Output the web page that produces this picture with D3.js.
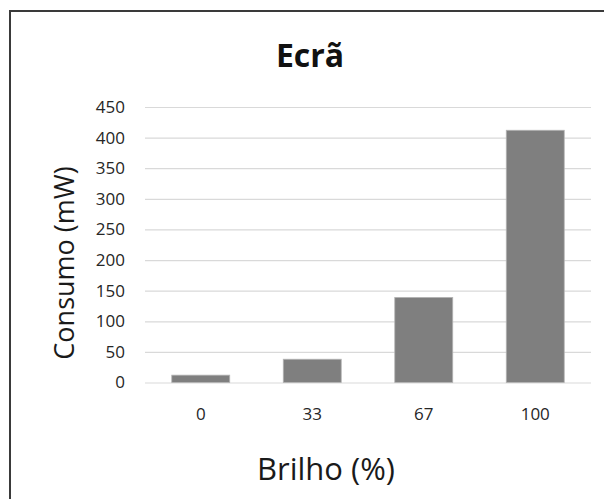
<!DOCTYPE html>
<html lang="pt">
<head>
    <meta charset="UTF-8">
    <title>Ecrã</title>
    <script src="https://d3js.org/d3.v7.min.js"></script>
    <style>
        body { margin: 0; background: white; font-family: "Open Sans", sans-serif; }
        svg { display: block; }
    </style>
</head>
<body>
<script>
    // Chart data
    const brilho = ["0", "33", "67", "100"];
    const consumo = [12, 38, 139, 412];
    const yTicks = [0, 50, 100, 150, 200, 250, 300, 350, 400, 450];

    const W = 604, H = 499;
    const plot = {left: 145, right: 591, top: 107, bottom: 382.5};

    const svg = d3.select("body").append("svg")
        .attr("width", W)
        .attr("height", H);

    // chart frame (runs off the right/bottom of the picture)
    svg.append("rect")
        .attr("x", 10).attr("y", 11)
        .attr("width", 700).attr("height", 600)
        .attr("fill", "white")
        .attr("stroke", "#3a3a3a")
        .attr("stroke-width", 2);

    const x = d3.scaleBand()
        .domain(brilho)
        .range([plot.left, plot.right])
        .paddingInner(0.48)
        .paddingOuter(0.24);

    const y = d3.scaleLinear()
        .domain([0, 450])
        .range([plot.bottom, plot.top]);

    // y axis + gridlines
    const yAxis = svg.append("g")
        .attr("transform", `translate(${plot.left},0)`)
        .call(d3.axisLeft(y)
            .tickValues(yTicks)
            .tickSize(-(plot.right - plot.left))
            .tickPadding(20));
    yAxis.select(".domain").remove();
    yAxis.selectAll("line").attr("stroke", "#d9d9d9").attr("stroke-width", 1.2);
    yAxis.selectAll("text")
        .attr("fill", "#262626")
        .style("font-family", "Open Sans, sans-serif")
        .style("font-size", "17px");

    // bars
    svg.selectAll(".bar")
        .data(brilho.map((b, i) => ({b, v: consumo[i]})))
        .enter().append("rect")
        .attr("class", "bar")
        .attr("x", d => x(d.b))
        .attr("y", d => y(d.v))
        .attr("width", x.bandwidth())
        .attr("height", d => y(0) - y(d.v))
        .attr("fill", "#7f7f7f")
        .attr("stroke", "#b4b4b4")
        .attr("stroke-width", 0.8);

    // x axis labels
    const xAxis = svg.append("g")
        .attr("transform", `translate(0,${plot.bottom})`)
        .call(d3.axisBottom(x).tickSize(0).tickPadding(25));
    xAxis.select(".domain").remove();
    xAxis.selectAll("text")
        .attr("fill", "#262626")
        .style("font-family", "Open Sans, sans-serif")
        .style("font-size", "17px");

    // title
    svg.append("text")
        .attr("x", 310).attr("y", 67)
        .attr("text-anchor", "middle")
        .style("font-size", "32px")
        .style("font-weight", "bold")
        .attr("fill", "#111")
        .text("Ecrã");

    // axis titles
    svg.append("text")
        .attr("x", 326).attr("y", 480)
        .attr("text-anchor", "middle")
        .style("font-size", "31px")
        .attr("fill", "#1a1a1a")
        .text("Brilho (%)");

    svg.append("text")
        .attr("transform", "translate(74,263) rotate(-90)")
        .attr("text-anchor", "middle")
        .style("font-size", "27px")
        .attr("fill", "#1a1a1a")
        .text("Consumo (mW)");
</script>
</body>
</html>
